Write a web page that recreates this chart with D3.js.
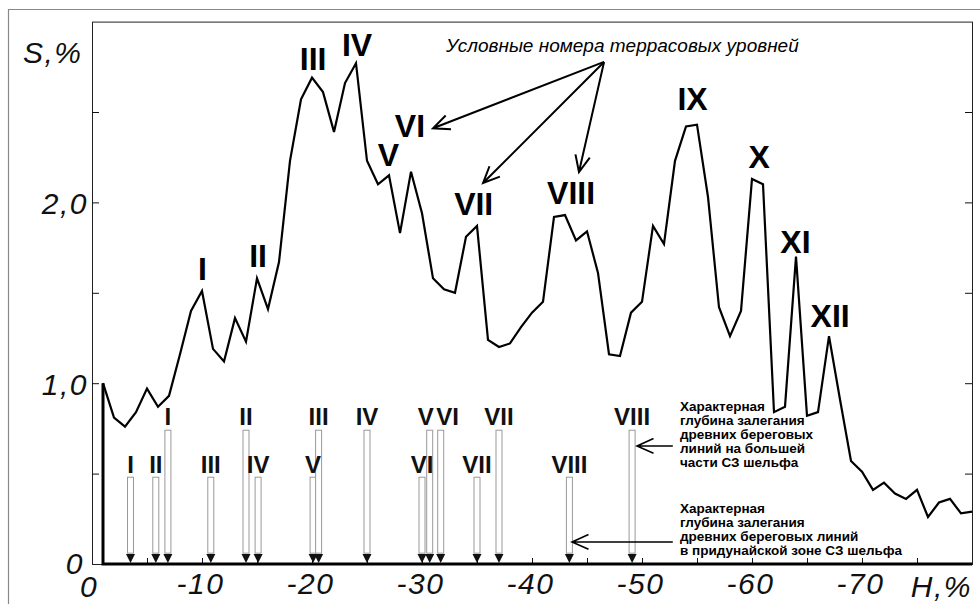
<!DOCTYPE html>
<html>
<head>
<meta charset="utf-8">
<script src="https://cdn.jsdelivr.net/npm/d3@7/dist/d3.min.js"></script>
<style>
  body { margin: 0; background: #fff; }
  svg { display: block; }
  text { font-family: "Liberation Sans", Arial, sans-serif; }
</style>
</head>
<body>
<svg id="chart" width="980" height="604"></svg>
<script>
const width = 980;
const height = 604;
const svg = d3.select('#chart');

// Depth H, % (one reading per metre-percent step) and share S, %
const depthH = [-1, -2, -3, -4, -5, -6, -7, -8, -9, -10,
  -11, -12, -13, -14, -15, -16, -17, -18, -19, -20,
  -21, -22, -23, -24, -25, -26, -27, -28, -29, -30,
  -31, -32, -33, -34, -35, -36, -37, -38, -39, -40,
  -41, -42, -43, -44, -45, -46, -47, -48, -49, -50,
  -51, -52, -53, -54, -55, -56, -57, -58, -59, -60,
  -61, -62, -63, -64, -65, -66, -67, -68, -69, -70,
  -71, -72, -73, -74, -75, -76, -77, -78, -79, -80];
const shareS = [1.00, 0.81, 0.76, 0.84, 0.97, 0.87, 0.93, 1.16, 1.40, 1.51,
  1.19, 1.12, 1.36, 1.23, 1.58, 1.41, 1.67, 2.23, 2.57, 2.69,
  2.61, 2.39, 2.66, 2.77, 2.23, 2.10, 2.15, 1.83, 2.17, 1.94,
  1.58, 1.52, 1.50, 1.81, 1.87, 1.24, 1.20, 1.22, 1.31, 1.39,
  1.45, 1.92, 1.93, 1.79, 1.84, 1.61, 1.16, 1.15, 1.39, 1.45,
  1.87, 1.77, 2.23, 2.42, 2.43, 2.03, 1.42, 1.26, 1.40, 2.13,
  2.10, 0.84, 0.87, 1.70, 0.82, 0.84, 1.26, 0.91, 0.57, 0.51,
  0.41, 0.45, 0.39, 0.36, 0.41, 0.26, 0.34, 0.36, 0.28, 0.29];

// Terrace level labels on the curve (label centre H, label baseline S)
const peakLabels = ['I', 'II', 'III', 'IV', 'V', 'VI', 'VII', 'VIII', 'IX', 'X', 'XI', 'XII'];
const peakLabelH = [-10.05, -15.1, -20.1, -24.1, -26.95, -28.9, -34.7, -43.55, -54.6, -60.65, -63.95, -67.1];
const peakLabelS = [1.57, 1.64, 2.73, 2.81, 2.20, 2.36, 1.93, 1.99, 2.51, 2.19, 1.72, 1.31];

// Typical depths of ancient shorelines
const levelNames = ['I', 'II', 'III', 'IV', 'V', 'VI', 'VII', 'VIII'];
const mainShelfH = [-6.9, -14.0, -20.6, -25.0, -30.7, -31.7, -37.0, -49.1];
const danubeH = [-3.5, -5.8, -10.8, -15.1, -20.1, -30.0, -35.0, -43.4];
const mainShelfTop = 0.74;
const danubeTop = 0.48;

// Axis ticks
const xMinorTicks = [-5, -10, -15, -20, -25, -30, -35, -40, -45, -50, -55, -60, -65, -70, -75];
const xLabelTicks = [-10, -20, -30, -40, -50, -60, -70];
const yTicks = [0.5, 1.0, 1.5, 2.0, 2.5];
const yLabelTicks = [1.0, 2.0];

const legendTitle = 'Условные номера террасовых уровней';
const mainShelfNote = ['Характерная', 'глубина залегания', 'древних береговых', 'линий на большей', 'части СЗ шельфа'];
const danubeNote = ['Характерная', 'глубина залегания', 'древних береговых линий', 'в придунайской зоне СЗ шельфа'];

// Scales
const x = d3.scaleLinear().domain([0, -80]).range([92, 972]);
const y = d3.scaleLinear().domain([0, 3]).range([564, 21.6]);

// Outer grey frame
svg.append('path')
  .attr('d', `M8.5,604 V9.5 H980`)
  .attr('fill', 'none').attr('stroke', '#888').attr('stroke-width', 1.2);

// Plot frame
svg.append('rect')
  .attr('x', x(0) + 0.5).attr('y', y(3) + 0.5)
  .attr('width', x(-80) - x(0)).attr('height', y(0) - y(3))
  .attr('fill', 'none').attr('stroke', '#222').attr('stroke-width', 1);

// Axes (ticks only, inward)
svg.append('g')
  .attr('transform', `translate(0,${y(0)})`)
  .call(d3.axisBottom(x).tickValues(xMinorTicks).tickSize(-6).tickFormat(''))
  .call(g => g.select('.domain').remove())
  .call(g => g.selectAll('line').attr('stroke', '#111').attr('stroke-width', 1));

svg.append('g')
  .attr('transform', `translate(${x(0)},0)`)
  .call(d3.axisLeft(y).tickValues(yTicks).tickSize(-7).tickPadding(4)
    .tickFormat(d => yLabelTicks.includes(d) ? d3.format('.1f')(d).replace('.', ',') : ''))
  .call(g => g.select('.domain').remove())
  .call(g => g.selectAll('line').attr('stroke', '#111'))
  .call(g => g.selectAll('text')
    .attr('font-family', '"Liberation Sans", Arial, sans-serif')
    .attr('font-size', 30).attr('font-style', 'italic').attr('fill', '#111')
    .attr('letter-spacing', 1.5)
    .attr('dy', '0.36em'));

svg.append('g')
  .attr('transform', `translate(${x(-80)},0)`)
  .call(d3.axisRight(y).tickValues(yTicks).tickSize(-7).tickFormat(''))
  .call(g => g.select('.domain').remove())
  .call(g => g.selectAll('line').attr('stroke', '#111'));

svg.append('g')
  .attr('transform', `translate(0,${y(0)})`)
  .call(d3.axisBottom(x).tickValues(xLabelTicks).tickSize(0).tickPadding(9)
    .tickFormat(d => '-' + Math.abs(d)))
  .call(g => g.select('.domain').remove())
  .call(g => g.selectAll('text')
    .attr('font-family', '"Liberation Sans", Arial, sans-serif')
    .attr('font-size', 30).attr('font-style', 'italic').attr('fill', '#111')
    .attr('letter-spacing', 1.5)
    .attr('dx', -2));

// zeros and axis titles
const axisText = svg.append('g')
  .attr('font-size', 30).attr('font-style', 'italic').attr('fill', '#111')
  .attr('letter-spacing', 1.5);
axisText.append('text').attr('x', x(0) - 3).attr('y', 597).attr('text-anchor', 'middle').text('0');
axisText.append('text').attr('x', 84).attr('y', y(0) + 10).attr('text-anchor', 'end').text('0');
axisText.append('text').attr('x', 23).attr('y', 63).text('S,%');
axisText.append('text').attr('x', 972).attr('y', 597).attr('text-anchor', 'end').text('H,%');

// Shoreline depth markers
function drawMarkers(hs, top) {
  const g = svg.append('g');
  g.selectAll('rect')
    .data(hs)
    .join('rect')
    .attr('x', d => x(d) - 3)
    .attr('y', y(top))
    .attr('width', 6)
    .attr('height', y(0.06) - y(top))
    .attr('fill', '#fff')
    .attr('stroke', '#999')
    .attr('stroke-width', 1);
  g.selectAll('path')
    .data(hs)
    .join('path')
    .attr('d', d => `M${x(d) - 4.5},${y(0.055)} L${x(d) + 4.5},${y(0.055)} L${x(d)},${y(0) - 1} Z`)
    .attr('fill', '#111');
}
drawMarkers(danubeH, danubeTop);
drawMarkers(mainShelfH, mainShelfTop);

const tallShift = { V: -4, VI: 7 };
svg.append('g')
  .attr('font-size', 24).attr('font-weight', 'bold').attr('text-anchor', 'middle').attr('fill', '#111')
  .selectAll('text')
  .data(levelNames)
  .join('text')
  .attr('x', (d, i) => x(mainShelfH[i]) + (tallShift[d] || 0))
  .attr('y', y(mainShelfTop) - 5)
  .text(d => d);

svg.append('g')
  .attr('font-size', 24).attr('font-weight', 'bold').attr('text-anchor', 'middle').attr('fill', '#111')
  .selectAll('text')
  .data(levelNames)
  .join('text')
  .attr('x', (d, i) => x(danubeH[i]))
  .attr('y', y(danubeTop) - 4)
  .text(d => d);

// Curve, with the starting stem down to the axis
const points = depthH.map((h, i) => [h, shareS[i]]);
const line = d3.line().x(d => x(d[0])).y(d => y(d[1]));

svg.append('path')
  .attr('d', `M${x(-1)},${y(shareS[0])} V${y(0)} H${x(-80)}`)
  .attr('fill', 'none').attr('stroke', '#000').attr('stroke-width', 3);

svg.append('path')
  .datum(points)
  .attr('d', line)
  .attr('fill', 'none')
  .attr('stroke', '#000')
  .attr('stroke-width', 2.2)
  .attr('stroke-linejoin', 'miter');

// Peak labels
svg.append('g')
  .attr('font-size', 32).attr('font-weight', 'bold').attr('text-anchor', 'middle').attr('fill', '#000')
  .selectAll('text')
  .data(peakLabels)
  .join('text')
  .attr('x', (d, i) => x(peakLabelH[i]))
  .attr('y', (d, i) => y(peakLabelS[i]))
  .text(d => d);

// Arrows
function arrow(h1, s1, h2, s2, w, len) {
  const x1 = x(h1), y1 = y(s1), x2 = x(h2), y2 = y(s2);
  const a = Math.atan2(y2 - y1, x2 - x1);
  const spread = 0.42;
  const p1 = [x2 - len * Math.cos(a - spread), y2 - len * Math.sin(a - spread)];
  const p2 = [x2 - len * Math.cos(a + spread), y2 - len * Math.sin(a + spread)];
  svg.append('path')
    .attr('d', `M${x1},${y1} L${x2},${y2} M${p1[0]},${p1[1]} L${x2},${y2} L${p2[0]},${p2[1]}`)
    .attr('fill', 'none').attr('stroke', '#000').attr('stroke-width', w)
    .attr('stroke-linejoin', 'miter');
}

svg.append('text')
  .attr('x', 446).attr('y', 52)
  .attr('font-size', 19).attr('font-style', 'italic').attr('fill', '#000')
  .text(legendTitle);

arrow(-46.55, 2.777, -31.0, 2.41, 2, 18);
arrow(-46.55, 2.777, -35.55, 2.107, 2, 18);
arrow(-46.55, 2.777, -44.27, 2.168, 2, 18);

arrow(-52.8, 0.653, -49.55, 0.653, 1.6, 18);
arrow(-52.8, 0.122, -43.64, 0.122, 1.6, 18);

function note(lines, baseline) {
  svg.append('g')
    .attr('font-size', 13.5).attr('font-weight', 'bold').attr('fill', '#000')
    .selectAll('text')
    .data(lines)
    .join('text')
    .attr('x', 680)
    .attr('y', (d, i) => baseline + i * 14)
    .text(d => d);
}
note(mainShelfNote, 411);
note(danubeNote, 513);
</script>
</body>
</html>
